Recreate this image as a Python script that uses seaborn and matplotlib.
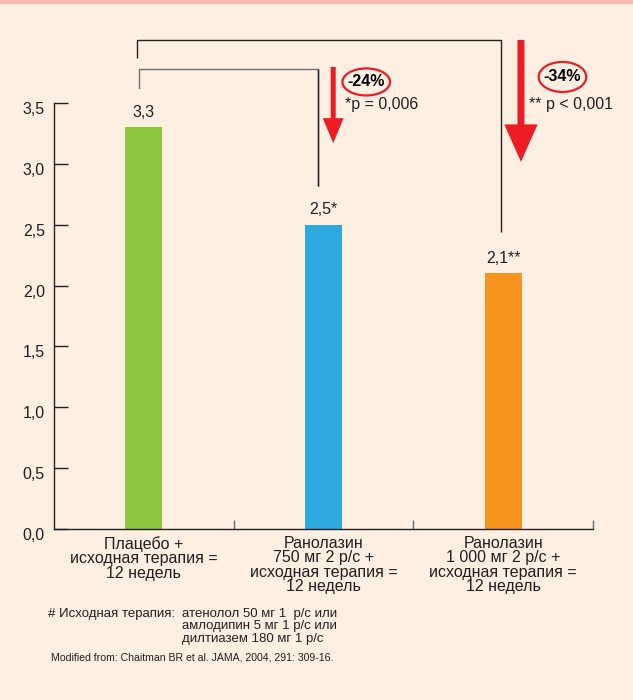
import matplotlib
matplotlib.use("Agg")
import matplotlib.pyplot as plt
import matplotlib.transforms as mtransforms
from matplotlib.patches import Ellipse, FancyArrowPatch, Rectangle
import seaborn as sns
import pandas as pd

# Data
categories = [
    "Плацебо +\nисходная терапия =\n12 недель",
    "Ранолазин\n750 мг 2 р/с +\nисходная терапия =\n12 недель",
    "Ранолазин\n1 000 мг 2 р/с +\nисходная терапия =\n12 недель",
]
values = [3.3, 2.5, 2.1]
value_marks = ["", "*", "**"]
colors = ["#8dc63f", "#2eaae1", "#f7941d"]
y_ticks = [0.0, 0.5, 1.0, 1.5, 2.0, 2.5, 3.0, 3.5]
reductions = ["-24%", "-34%"]
p_labels = ["*p = 0,006", "** p < 0,001"]

BG = "#fdf0e3"
DARK = "#231f20"
RED = "#ed1c24"
FS = 11.5

sns.set_style("white")
plt.rcParams["font.family"] = ["Liberation Sans", "DejaVu Sans"]

fig = plt.figure(figsize=(6.33, 7.0), dpi=100, facecolor=BG)
ax = fig.add_axes([54 / 633, 1 - 529 / 700, (593 - 54) / 633, (529 - 103) / 700])
ax.set_facecolor(BG)

df = pd.DataFrame({"cat": categories, "val": values})
sns.barplot(data=df, x="cat", y="val", hue="cat", palette=colors,
            width=0.206, legend=False, ax=ax, saturation=1, linewidth=0)

ax.set_xlim(-0.5, 2.5)
ax.set_ylim(0, 3.5)
ax.set_xlabel("")
ax.set_ylabel("")

# Spines
for s in ["top", "right"]:
    ax.spines[s].set_visible(False)
for s in ["left", "bottom"]:
    ax.spines[s].set_color(DARK)
    ax.spines[s].set_linewidth(1.0)

# Y axis ticks with comma decimals
ax.set_yticks(y_ticks)
ax.set_yticklabels([f"{v:.1f}".replace(".", ",") for v in y_ticks])
ax.tick_params(axis="y", direction="in", length=10, width=1.0, color=DARK,
               pad=6.5, labelsize=FS, labelcolor=DARK, left=True)
off = mtransforms.ScaledTranslation(0, -5 / 100, fig.dpi_scale_trans)
for lbl in ax.get_yticklabels():
    lbl.set_transform(lbl.get_transform() + off)

# X axis: category labels, separators as inward minor ticks
ax.set_xticks([0, 1, 2])
ax.set_xticklabels(categories, linespacing=0.95)
ax.set_xticks([0.5, 1.5, 2.5], minor=True)
ax.tick_params(axis="x", which="major", length=0, pad=5, labelsize=FS,
               labelcolor=DARK, bottom=True)
ax.tick_params(axis="x", which="minor", direction="in", length=6.5, width=1.0,
               color="#6d6e71", bottom=True)

# Value labels above bars
for i, (v, m) in enumerate(zip(values, value_marks)):
    ax.annotate(f"{v:.1f}".replace(".", ",") + m, xy=(i, v), xytext=(0, 11),
                textcoords="offset points", ha="center", va="center",
                fontsize=FS, color=DARK)

# Comparison brackets
line_kw = dict(color=DARK, lw=1.0, clip_on=False, solid_capstyle="butt")
ax.plot([-0.038, -0.038, 1.99, 1.99], [3.87, 4.018, 4.018, 2.44], **line_kw)
ax.plot([-0.026, -0.026, 0.97, 0.97], [3.62, 3.78, 3.78, 2.82],
        color="#6d6e71", lw=1.0, clip_on=False)
ax.plot([0.97, 0.97], [3.78, 2.82], **line_kw)

# Red downward arrows
arr1 = FancyArrowPatch((1.054, 3.796), (1.054, 3.17), mutation_scale=1,
                       arrowstyle="simple,head_length=18,head_width=15,tail_width=3.6",
                       color=RED, lw=0, shrinkA=0, shrinkB=0, clip_on=False)
arr2 = FancyArrowPatch((2.099, 4.018), (2.099, 3.016), mutation_scale=1,
                       arrowstyle="simple,head_length=27,head_width=24,tail_width=5",
                       color=RED, lw=0, shrinkA=0, shrinkB=0, clip_on=False)
ax.add_patch(arr1)
ax.add_patch(arr2)

# Circled reductions and p-values
for (cx, cy, h), txt in zip([(1.238, 3.673, 0.222), (2.33, 3.714, 0.2465)], reductions):
    ax.add_patch(Ellipse((cx, cy), 0.265, h, fill=False, edgecolor=RED, lw=1.6,
                         clip_on=False))
    ax.text(cx, cy, txt, ha="center", va="center", fontsize=FS,
            fontweight="bold", color="#000000")
ax.text(1.121, 3.49, p_labels[0], ha="left", va="center", fontsize=FS, color=DARK)
ax.text(2.146, 3.49, p_labels[1], ha="left", va="center", fontsize=FS, color=DARK)

# Top band
fig.patches.append(Rectangle((0, 1 - 4 / 700), 1, 4 / 700, transform=fig.transFigure,
                             facecolor="#f9b9b5", edgecolor="none"))

# Footnotes
fig.text(48 / 633, 1 - 608 / 700, "# Исходная терапия:", ha="left", va="top",
         fontsize=9.5, color=DARK)
fig.text(182 / 633, 1 - 608 / 700,
         "атенолол 50 мг 1  р/с или\nамлодипин 5 мг 1 р/с или\nдилтиазем 180 мг 1 р/с",
         ha="left", va="top", fontsize=9.5, color=DARK, linespacing=1.03)
fig.text(51 / 633, 1 - 657 / 700,
         "Modified from: Chaitman BR et al. JAMA, 2004, 291: 309-16.",
         ha="left", va="center", fontsize=7.6, color=DARK)

fig.savefig("out.png", dpi=100, facecolor=BG)
